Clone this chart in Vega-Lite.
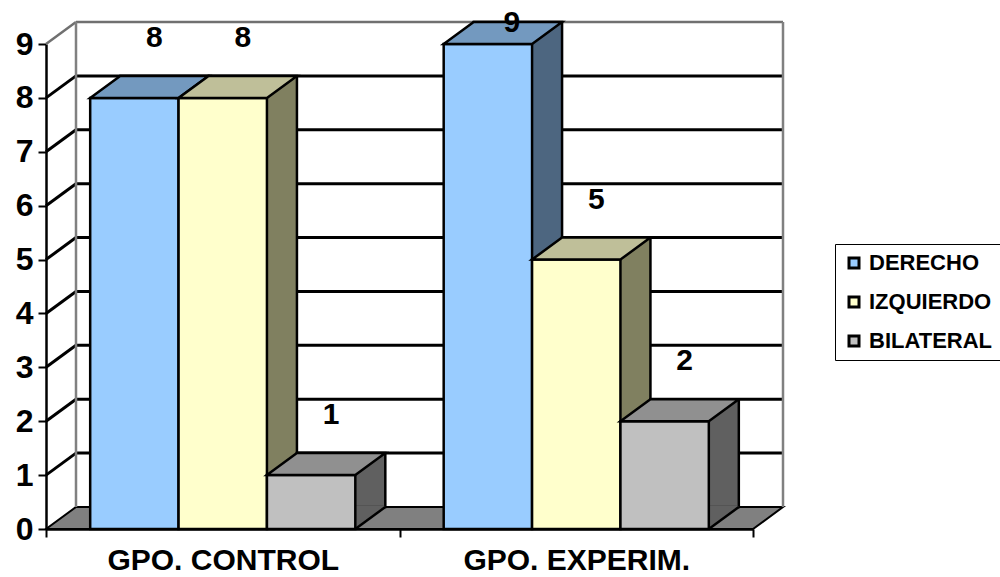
{
  "$schema": "https://vega.github.io/schema/vega-lite/v6.json",
  "width": 707,
  "height": 485,
  "autosize": {"type": "none"},
  "padding": {"left": 46, "top": 44, "right": 247, "bottom": 48},
  "background": "white",
  "config": {
    "view": {"stroke": null},
    "font": "Liberation Sans",
    "axisX": {
      "labelAngle": 0, "labelFont": "Liberation Sans", "labelFontWeight": "bold", "labelFontSize": 30, "labelColor": "#000000", "labelLimit": 0,
      "domainColor": "#000000", "domainWidth": 2.5, "tickColor": "#000000", "tickWidth": 2, "tickSize": 8, "tickBand": "extent", "labelPadding": 8, "grid": false
    },
    "axisY": {
      "grid": false, "labelFont": "Liberation Sans", "labelFontWeight": "bold", "labelFontSize": 32, "labelColor": "#000000", "format": "d",
      "domainColor": "#000000", "domainWidth": 2.5, "tickColor": "#000000", "tickWidth": 2, "tickSize": 8, "labelPadding": 5
    },
    "legend": {
      "labelFont": "Liberation Sans", "labelFontWeight": "bold", "labelFontSize": 22, "labelColor": "#000000",
      "symbolStrokeColor": "#000000", "symbolStrokeWidth": 3, "symbolSize": 100, "symbolType": "square", "symbolOpacity": 1
    }
  },
  "datasets": {
    "barras": [
      {"grupo": "GPO. CONTROL", "lado": "DERECHO", "n": 8},
      {"grupo": "GPO. CONTROL", "lado": "IZQUIERDO", "n": 8},
      {"grupo": "GPO. CONTROL", "lado": "BILATERAL", "n": 1},
      {"grupo": "GPO. EXPERIM.", "lado": "DERECHO", "n": 9},
      {"grupo": "GPO. EXPERIM.", "lado": "IZQUIERDO", "n": 5},
      {"grupo": "GPO. EXPERIM.", "lado": "BILATERAL", "n": 2}
    ],
    "niveles": [
      {"t": 0}, {"t": 1}, {"t": 2}, {"t": 3}, {"t": 4},
      {"t": 5}, {"t": 6}, {"t": 7}, {"t": 8}, {"t": 9}
    ]
  },
  "data": {"name": "barras"},
  "resolve": {"scale": {"xOffset": "independent"}},
  "layer": [
    {
      "data": {"name": "niveles"},
      "transform": [{"filter": "datum.t === 0"}],
      "mark": {"type": "point", "shape": "M0,0L30,-22L737,-22L707,0Z", "size": 4, "filled": true, "fill": "#808080", "stroke": "#000000", "strokeWidth": 2, "opacity": 1},
      "encoding": {
        "x": {"datum": "GPO. CONTROL", "type": "nominal", "bandPosition": 0, "axis": {"title": null}},
        "y": {"field": "t", "type": "quantitative", "axis": {"title": null, "format": "d"}}
      }
    },
    {
      "data": {"name": "niveles"},
      "transform": [{"filter": "datum.t >= 1"}],
      "mark": {"type": "rule", "xOffset": 30, "x2Offset": 30, "yOffset": -22},
      "encoding": {
        "x": {"datum": "GPO. CONTROL", "type": "nominal", "bandPosition": 0, "axis": {"title": null}},
        "x2": {"datum": "GPO. EXPERIM.", "bandPosition": 1},
        "y": {"field": "t", "type": "quantitative", "axis": {"title": null, "format": "d"}},
        "stroke": {"condition": {"test": "datum.t === 9", "value": "#707070"}, "value": "#000000"},
        "strokeWidth": {"condition": {"test": "datum.t === 9", "value": 2.5}, "value": 3}
      }
    },
    {
      "data": {"name": "niveles"},
      "transform": [{"filter": "datum.t >= 1"}],
      "mark": {"type": "point", "shape": "M0,0L30,-22", "size": 4, "filled": false, "opacity": 1},
      "encoding": {
        "x": {"datum": "GPO. CONTROL", "type": "nominal", "bandPosition": 0, "axis": {"title": null}},
        "y": {"field": "t", "type": "quantitative", "axis": {"title": null, "format": "d"}},
        "stroke": {"condition": {"test": "datum.t === 9", "value": "#707070"}, "value": "#000000"},
        "strokeWidth": {"condition": {"test": "datum.t === 9", "value": 2.5}, "value": 3}
      }
    },
    {
      "data": {"name": "niveles"},
      "transform": [{"filter": "datum.t === 0"}],
      "mark": {"type": "rule", "xOffset": 30, "yOffset": -22, "y2Offset": -22, "stroke": "#808080", "strokeWidth": 2.5},
      "encoding": {
        "x": {"datum": "GPO. CONTROL", "type": "nominal", "bandPosition": 0, "axis": {"title": null}},
        "y": {"datum": 0, "type": "quantitative", "axis": {"title": null, "format": "d"}},
        "y2": {"datum": 9}
      }
    },
    {
      "data": {"name": "niveles"},
      "transform": [{"filter": "datum.t === 0"}],
      "mark": {"type": "rule", "xOffset": 30, "yOffset": -22, "y2Offset": -22, "stroke": "#808080", "strokeWidth": 2.5},
      "encoding": {
        "x": {"datum": "GPO. EXPERIM.", "type": "nominal", "bandPosition": 1, "axis": {"title": null}},
        "y": {"datum": 0, "type": "quantitative", "axis": {"title": null, "format": "d"}},
        "y2": {"datum": 9}
      }
    },
    {
      "mark": {"type": "bar", "yOffset": -22, "y2Offset": -22, "stroke": "#000000", "strokeWidth": 2.5},
      "encoding": {
        "x": {"field": "grupo", "type": "nominal", "axis": {"title": null}},
        "xOffset": {"field": "lado", "type": "nominal", "scale": {"type": "band", "domain": ["DERECHO", "IZQUIERDO", "BILATERAL"], "paddingInner": 0, "paddingOuter": 0.5, "align": 0.8395}},
        "y": {"field": "n", "type": "quantitative", "axis": {"title": null, "format": "d"}},
        "y2": {"datum": 0},
        "fill": {"condition": [
          {"test": "datum.lado === 'DERECHO'", "value": "#4D6680"},
          {"test": "datum.lado === 'IZQUIERDO'", "value": "#808060"}
        ], "value": "#606060"}
      }
    },
    {
      "mark": {"type": "point", "shape": "M44.19,0L44.19,-23.6L72.8,-23.6L74.19,-22Z", "size": 4, "filled": true, "strokeWidth": 0, "opacity": 1},
      "encoding": {
        "x": {"field": "grupo", "type": "nominal", "axis": {"title": null}},
        "xOffset": {"field": "lado", "type": "nominal", "scale": {"type": "band", "domain": ["DERECHO", "IZQUIERDO", "BILATERAL"], "paddingInner": 0, "paddingOuter": 0.5}},
        "y": {"datum": 0, "type": "quantitative", "axis": {"title": null, "format": "d"}},
        "fill": {"condition": [
          {"test": "datum.lado === 'DERECHO'", "value": "#4D6680"},
          {"test": "datum.lado === 'IZQUIERDO'", "value": "#808060"}
        ], "value": "#606060"}
      }
    },
    {
      "mark": {"type": "point", "shape": "M44.19,0L74.19,-22", "size": 4, "filled": false, "stroke": "#000000", "strokeWidth": 2.5, "opacity": 1},
      "encoding": {
        "x": {"field": "grupo", "type": "nominal", "axis": {"title": null}},
        "xOffset": {"field": "lado", "type": "nominal", "scale": {"type": "band", "domain": ["DERECHO", "IZQUIERDO", "BILATERAL"], "paddingInner": 0, "paddingOuter": 0.5}},
        "y": {"datum": 0, "type": "quantitative", "axis": {"title": null, "format": "d"}}
      }
    },
    {
      "mark": {"type": "bar", "stroke": "#000000", "strokeWidth": 2.5},
      "encoding": {
        "x": {
          "field": "grupo", "type": "nominal",
          "scale": {"paddingInner": 0, "paddingOuter": 0},
          "axis": {"title": null, "labelLimit": 0}
        },
        "xOffset": {"field": "lado", "type": "nominal", "scale": {"type": "band", "domain": ["DERECHO", "IZQUIERDO", "BILATERAL"], "paddingInner": 0, "paddingOuter": 0.5}},
        "y": {
          "field": "n", "type": "quantitative",
          "scale": {"domain": [0, 9], "nice": false},
          "axis": {"title": null, "format": "d", "values": [0, 1, 2, 3, 4, 5, 6, 7, 8, 9]}
        },
        "fill": {
          "field": "lado", "type": "nominal",
          "scale": {"domain": ["DERECHO", "IZQUIERDO", "BILATERAL"], "range": ["#99CCFF", "#FFFFCC", "#C0C0C0"]},
          "legend": {
            "title": null, "orient": "none", "legendX": 789, "legendY": 200, "strokeColor": "#000000", "fillColor": "#FFFFFF", "padding": 8,
            "symbolType": "square", "symbolSize": 100, "symbolStrokeColor": "#000000", "symbolStrokeWidth": 3, "symbolOpacity": 1,
            "labelFont": "Liberation Sans", "labelFontWeight": "bold", "labelFontSize": 22, "labelColor": "#000000", "rowPadding": 17, "labelOffset": 4
          }
        }
      }
    },
    {
      "mark": {"type": "point", "shape": "M-44.19,0L-14.19,-22L74.19,-22L44.19,0Z", "size": 4, "filled": true, "stroke": "#000000", "strokeWidth": 2.5, "opacity": 1},
      "encoding": {
        "x": {"field": "grupo", "type": "nominal", "axis": {"title": null}},
        "xOffset": {"field": "lado", "type": "nominal", "scale": {"type": "band", "domain": ["DERECHO", "IZQUIERDO", "BILATERAL"], "paddingInner": 0, "paddingOuter": 0.5}},
        "y": {"field": "n", "type": "quantitative", "axis": {"title": null, "format": "d"}},
        "fill": {"condition": [
          {"test": "datum.lado === 'DERECHO'", "value": "#7399BF"},
          {"test": "datum.lado === 'IZQUIERDO'", "value": "#BFBF99"}
        ], "value": "#909090"}
      }
    },
    {
      "transform": [{"filter": "datum.n < 9"}],
      "mark": {"type": "text", "font": "Liberation Sans", "fontWeight": "bold", "fontSize": 30, "color": "#000000", "baseline": "middle", "align": "center", "dx": 20, "dy": -60},
      "encoding": {
        "x": {"field": "grupo", "type": "nominal", "axis": {"title": null}},
        "xOffset": {"field": "lado", "type": "nominal", "scale": {"type": "band", "domain": ["DERECHO", "IZQUIERDO", "BILATERAL"], "paddingInner": 0, "paddingOuter": 0.5}},
        "y": {"field": "n", "type": "quantitative", "axis": {"title": null, "format": "d"}},
        "text": {"field": "n", "type": "quantitative"}
      }
    },
    {
      "transform": [{"filter": "datum.n >= 9"}],
      "mark": {"type": "text", "font": "Liberation Sans", "fontWeight": "bold", "fontSize": 30, "color": "#000000", "baseline": "middle", "align": "center", "dx": 24, "dy": -21},
      "encoding": {
        "x": {"field": "grupo", "type": "nominal", "axis": {"title": null}},
        "xOffset": {"field": "lado", "type": "nominal", "scale": {"type": "band", "domain": ["DERECHO", "IZQUIERDO", "BILATERAL"], "paddingInner": 0, "paddingOuter": 0.5}},
        "y": {"field": "n", "type": "quantitative", "axis": {"title": null, "format": "d"}},
        "text": {"field": "n", "type": "quantitative"}
      }
    }
  ]
}
